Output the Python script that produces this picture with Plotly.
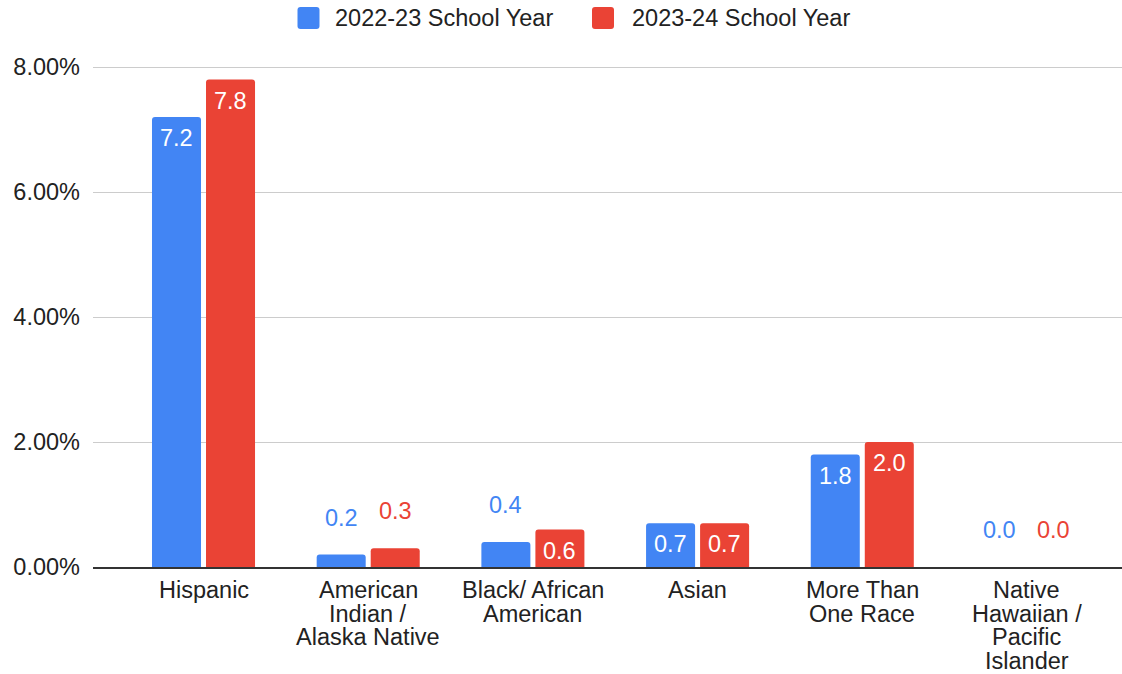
import plotly.graph_objects as go

# Share of students by race/ethnicity, two school years (values in percent)
categories = [
    "Hispanic",
    "American Indian / Alaska Native",
    "Black/ African American",
    "Asian",
    "More Than One Race",
    "Native Hawaiian / Pacific Islander",
]
tick_lines = [
    ["Hispanic"],
    ["American", "Indian /", "Alaska Native"],
    ["Black/ African", "American"],
    ["Asian"],
    ["More Than", "One Race"],
    ["Native", "Hawaiian /", "Pacific", "Islander"],
]
series_names = ["2022-23 School Year", "2023-24 School Year"]
values_2022_23 = [7.2, 0.2, 0.4, 0.7, 1.8, 0.0]
values_2023_24 = [7.8, 0.3, 0.6, 0.7, 2.0, 0.0]
y_ticks = [0, 2, 4, 6, 8]
y_tick_labels = ["0.00%", "2.00%", "4.00%", "6.00%", "8.00%"]

colors = ["#4285F4", "#EA4335"]
font_family = "Liberation Sans, Arial, sans-serif"
text_color = "#222222"
fs = 23.5

W, H = 1122, 674
m_l, m_r, m_t, m_b = 93, 0, 62, 107
plot_w = W - m_l - m_r
plot_h = H - m_t - m_b

fig = go.Figure()
series = [values_2022_23, values_2023_24]
for name, vals, col in zip(series_names, series, colors):
    fig.add_trace(go.Bar(
        x=categories, y=vals, name=name,
        marker=dict(color=col, line=dict(width=0)),
        showlegend=False, hoverinfo="x+y",
    ))

annotations = []

# value labels: white inside tall bars, coloured above short ones
slot_px = 27
for si, (vals, col) in enumerate(zip(series, colors)):
    dx = -slot_px if si == 0 else slot_px
    for cat, v in zip(categories, vals):
        inside = v >= 0.5
        annotations.append(dict(
            x=cat, y=v, xref="x", yref="y",
            text=f"{v:.1f}", showarrow=False,
            xshift=dx, yshift=(-21 if inside else 37),
            yanchor="middle", xanchor="center",
            font=dict(family=font_family, size=fs,
                      color="#FFFFFF" if inside else col),
        ))

# wrapped category labels under the axis, one line per annotation
line_h = 23.5
for cat, lines in zip(categories, tick_lines):
    for k, ln in enumerate(lines):
        annotations.append(dict(
            x=cat, y=0, xref="x", yref="paper",
            text=ln, showarrow=False, borderpad=0,
            yshift=-(23 + line_h * k), yanchor="middle", xanchor="center",
            font=dict(family=font_family, size=fs, color=text_color),
        ))

# legend: rounded swatches with labels across the top
shapes = []
legend_y_px = 18
legend_items = [(308.5, 333), (603, 630)]
ly = (H - m_b - legend_y_px) / plot_h
r, hs = 3, 11
sq_path = (f"M{-hs + r},{-hs} L{hs - r},{-hs} Q{hs},{-hs} {hs},{-hs + r} "
           f"L{hs},{hs - r} Q{hs},{hs} {hs - r},{hs} L{-hs + r},{hs} "
           f"Q{-hs},{hs} {-hs},{hs - r} L{-hs},{-hs + r} Q{-hs},{-hs} {-hs + r},{-hs} Z")
for (sq_x, txt_x), name, col in zip(legend_items, series_names, colors):
    shapes.append(dict(
        type="path", xref="paper", yref="paper",
        xsizemode="pixel", ysizemode="pixel",
        xanchor=(sq_x - m_l) / plot_w, yanchor=ly,
        path=sq_path, fillcolor=col, line=dict(width=0),
    ))
    annotations.append(dict(
        x=(txt_x - m_l) / plot_w, y=ly, xref="paper", yref="paper",
        text=name, showarrow=False, xanchor="left", yanchor="middle",
        font=dict(family=font_family, size=fs, color=text_color),
    ))

fig.update_layout(
    width=W, height=H,
    margin=dict(l=m_l, r=m_r, t=m_t, b=m_b, pad=0),
    paper_bgcolor="white", plot_bgcolor="white",
    barmode="group", bargap=0.344, bargroupgap=0.0926,
    barcornerradius=3,
    font=dict(family=font_family, size=fs, color=text_color),
    showlegend=False,
    annotations=annotations, shapes=shapes,
    xaxis=dict(
        range=[-0.671, 5.577], showticklabels=False, ticks="",
        showgrid=False, zeroline=False,
        showline=True, linecolor="#333333", linewidth=2,
        fixedrange=True,
    ),
    yaxis=dict(
        range=[0, 8.08], tickmode="array",
        tickvals=y_ticks, ticktext=y_tick_labels,
        showgrid=True, gridcolor="#CCCCCC", gridwidth=1,
        zeroline=False, showline=False, ticks="",
        ticklabelstandoff=12,
        tickfont=dict(family=font_family, size=fs, color=text_color),
        fixedrange=True,
    ),
)

fig.write_html("out.html")
